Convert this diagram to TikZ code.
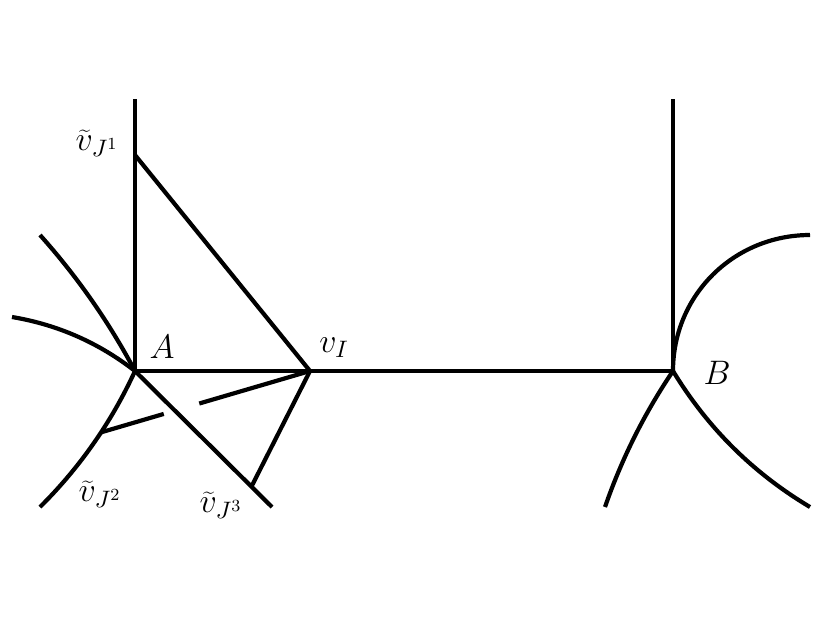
\RequirePackage{fix-cm}
\documentclass[tikz,border=0pt]{standalone}
\usetikzlibrary{calc}
\begin{document}
\begin{tikzpicture}[x=0.5pt,y=-0.5pt,
  edge/.style={line width=2.1pt},
  heavy/.style={line width=2.4pt},
  lbl/.style={font=\fontsize{17}{20}\selectfont, inner sep=0pt}]
\useasboundingbox (0,0) rectangle (830,623);
% points
\coordinate (A) at (135,371);
\coordinate (Atop) at (135,99);
\coordinate (J1) at (135,155);
\coordinate (vI) at (310,371);
\coordinate (B) at (673,371);
\coordinate (Btop) at (673,99);
\coordinate (c1s) at (40,235);
\coordinate (c2s) at (12,317);
\coordinate (c3e) at (40,507);
\coordinate (d3e) at (272,507);
\coordinate (J3) at ($(A)!0.85!(d3e)$);
\coordinate (Barc) at (810,235);
\coordinate (Bl) at (605,507);
\coordinate (Br) at (810,507);
% lines at A
\draw[heavy] (Atop) -- (A) -- (vI);
\draw[edge] (vI) -- (B);
\draw[edge] (Btop) -- (B);
\draw[edge] (J1) -- (vI);
\draw[edge] (c1s) .. controls (77.1,276.5) and (108.8,321.8) .. (A);
\draw[edge] (c2s) .. controls (57.5,324.6) and (98.5,342.6) .. (A);
\draw[edge] (A) .. controls (111.5,422.1) and (79.9,467.4) .. (c3e) coordinate[pos=0.42] (J2);
\draw[edge] (J2) -- ($(J2)!0.3!(vI)$);
\draw[edge] ($(J2)!0.47!(vI)$) -- (vI);
\draw[edge] (A) -- (d3e);
\draw[edge] (vI) -- (J3);
% curves at B
\draw[edge] (B) .. controls (673,295) and (734,235) .. (Barc);
\draw[edge] (B) .. controls (644.4,413.3) and (621.7,458.7) .. (Bl);
\draw[edge] (B) .. controls (707.5,427.8) and (753.1,473.1) .. (Br);
% labels
\node[lbl] (lA) at (162,347) {$A$};
\node[lbl] (lvI) at (334,348) {$v_I$};
\node[lbl] (lB) at (717,373) {$B$};
\node[lbl] (lJ1) at (97,143) {$\widetilde{v}_{J^1}$};
\node[lbl] (lJ2) at (100,494) {$\widetilde{v}_{J^2}$};
\node[lbl] (lJ3) at (221,505) {$\widetilde{v}_{J^3}$};
\end{tikzpicture}
\end{document}
